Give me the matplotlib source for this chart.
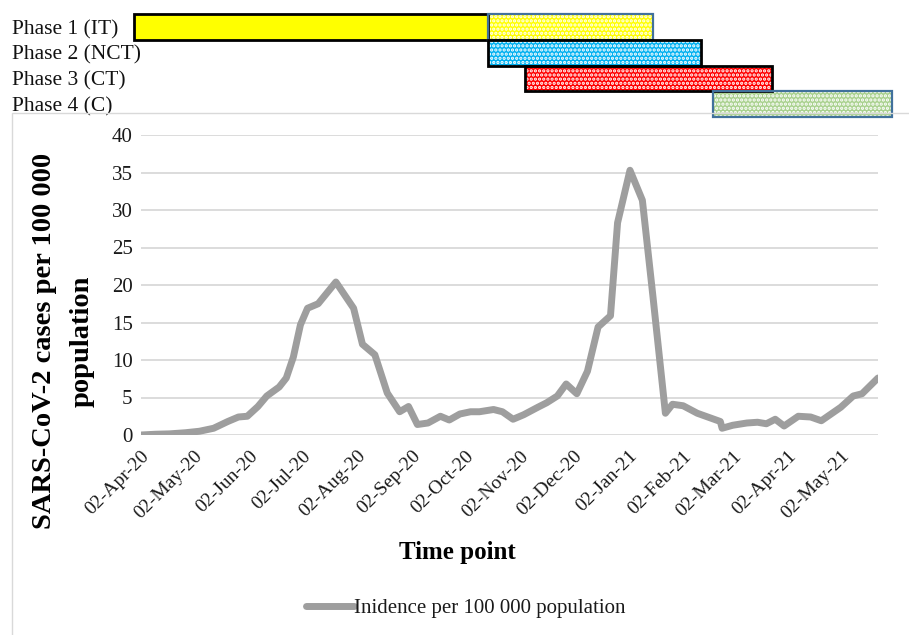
import numpy as np
import pandas as pd
import matplotlib
matplotlib.use("Agg")
import matplotlib.pyplot as plt
import matplotlib.dates as mdates
from matplotlib.patches import Rectangle
import matplotlib.transforms as mtransforms

plt.rcParams['font.family'] = ['Liberation Serif', 'DejaVu Serif']
plt.rcParams['hatch.linewidth'] = 1.6

# ---- data ----
start_date = "2020-04-02"
day_offsets = [0, 8, 16, 25, 33, 41, 49, 55, 60, 66, 71, 78, 82, 86, 90, 94, 100,
               110, 120, 125, 132, 139, 146, 151, 156, 162, 169, 174, 180, 186,
               191, 199, 204, 210, 216, 224, 229, 235, 240, 246, 252, 258, 265,
               269, 276, 283, 289, 296, 300, 306, 314, 327, 328, 334, 342, 348,
               353, 358, 363, 371, 378, 384, 395, 402, 407, 416]
incidence = [0.0, 0.1, 0.15, 0.3, 0.5, 0.9, 1.8, 2.4, 2.5, 3.8, 5.2, 6.4, 7.6,
             10.4, 14.7, 16.9, 17.5, 20.4, 16.9, 12.1, 10.7, 5.6, 3.1, 3.8, 1.4,
             1.6, 2.5, 2.0, 2.8, 3.1, 3.1, 3.4, 3.1, 2.1, 2.7, 3.7, 4.3, 5.2,
             6.8, 5.5, 8.5, 14.4, 15.9, 28.3, 35.3, 31.3, 18.4, 2.9, 4.1, 3.9,
             2.9, 1.8, 0.9, 1.3, 1.6, 1.7, 1.5, 2.1, 1.2, 2.5, 2.4, 1.9, 3.7,
             5.2, 5.5, 7.6]

phase_labels = ["Phase 1 (IT)", "Phase 2 (NCT)", "Phase 3 (CT)", "Phase 4 (C)"]
# (row, start, end, colour, dotted, border colour)
phase_bars = [
    (0, "2020-03-29", "2020-10-15", "#FFFF00", False, "#000000"),
    (0, "2020-10-15", "2021-01-16", "#FFFF00", True, "#41719C"),
    (1, "2020-10-15", "2021-02-12", "#00B0F0", True, "#000000"),
    (2, "2020-11-05", "2021-03-24", "#FF0000", True, "#000000"),
    (3, "2021-02-19", "2021-05-31", "#A9D18E", True, "#41719C"),
]

yticks = list(range(0, 41, 5))
legend_label = "Inidence per 100 000 population"

dates = pd.to_datetime(start_date) + pd.to_timedelta(day_offsets, unit="D")

W, H = 909, 635
fig = plt.figure(figsize=(W / 100, H / 100), dpi=100)

# chart-area border
fig.patches.append(Rectangle((12 / W, -0.01), 1.0, 1 - 113 / H + 0.01,
                             transform=fig.transFigure, fill=False,
                             edgecolor="#D9D9D9", linewidth=1.0, zorder=0))

ax = fig.add_axes([141 / W, 1 - 435 / H, (878 - 141) / W, 300 / H])
ax.plot(dates, incidence, color="#9E9E9E", linewidth=5.0,
        solid_joinstyle="round", solid_capstyle="round", zorder=3,
        label=legend_label)
ax.set_ylim(0, 40)
ax.set_yticks(yticks)
ax.set_xlim(pd.Timestamp(start_date), dates[-1])
ax.xaxis.set_major_locator(mdates.MonthLocator(bymonthday=2))
ax.xaxis.set_major_formatter(mdates.DateFormatter("%d-%b-%y"))
ax.grid(axis="y", color="#D9D9D9", linewidth=1.3)
ax.set_axisbelow(True)
for s in ax.spines.values():
    s.set_visible(False)
ax.tick_params(axis="both", length=0, colors="#1a1a1a")
ax.tick_params(axis="y", pad=6, labelsize=15)
ax.tick_params(axis="x", pad=9, labelsize=14)
for lab in ax.get_xticklabels():
    lab.set_rotation(45)
    lab.set_ha("right")
    lab.set_rotation_mode("anchor")

fig.text(45 / W, 1 - 341 / H, "SARS-CoV-2 cases per 100 000", rotation=90,
         ha="center", va="center", fontsize=20.5, fontweight="bold")
fig.text(82 / W, 1 - 341 / H, "population", rotation=90,
         ha="center", va="center", fontsize=20.5, fontweight="bold")
fig.text(457 / W, 1 - 553 / H, "Time point", ha="center", va="center",
         fontsize=18, fontweight="bold")

leg = fig.legend(loc="center", bbox_to_anchor=(466 / W, 1 - 608 / H),
                 frameon=False, fontsize=15, handlelength=2.3,
                 handletextpad=0.0)
for t in leg.get_texts():
    t.set_color("#1a1a1a")

# ---- phase bars ----
gx = fig.add_axes([141 / W, 1 - 117 / H, (878 - 141) / W, 103 / H], sharex=ax)
gx.set_ylim(3.5, -0.5)
gx.axis("off")
for row, s, e, col, dotted, bcol in phase_bars:
    x0 = mdates.date2num(pd.Timestamp(s))
    x1 = mdates.date2num(pd.Timestamp(e))
    if dotted:
        gx.add_patch(Rectangle((x0, row - 0.5), x1 - x0, 1.0, facecolor=col,
                               edgecolor="white", hatch="....", linewidth=0,
                               clip_on=False, zorder=2))
    else:
        gx.add_patch(Rectangle((x0, row - 0.5), x1 - x0, 1.0, facecolor=col,
                               edgecolor="none", clip_on=False, zorder=2))
    gx.add_patch(Rectangle((x0, row - 0.5), x1 - x0, 1.0, fill=False,
                           edgecolor=bcol, linewidth=2.0 if bcol == "#000000" else 1.6,
                           clip_on=False, zorder=3))

blend = mtransforms.blended_transform_factory(fig.transFigure, gx.transData)
for i, lab in enumerate(phase_labels):
    gx.text(12 / W, i + 0.1, lab, transform=blend, ha="left", va="center",
            fontsize=15.5, color="#111111")

fig.savefig("out.png", dpi=100)
